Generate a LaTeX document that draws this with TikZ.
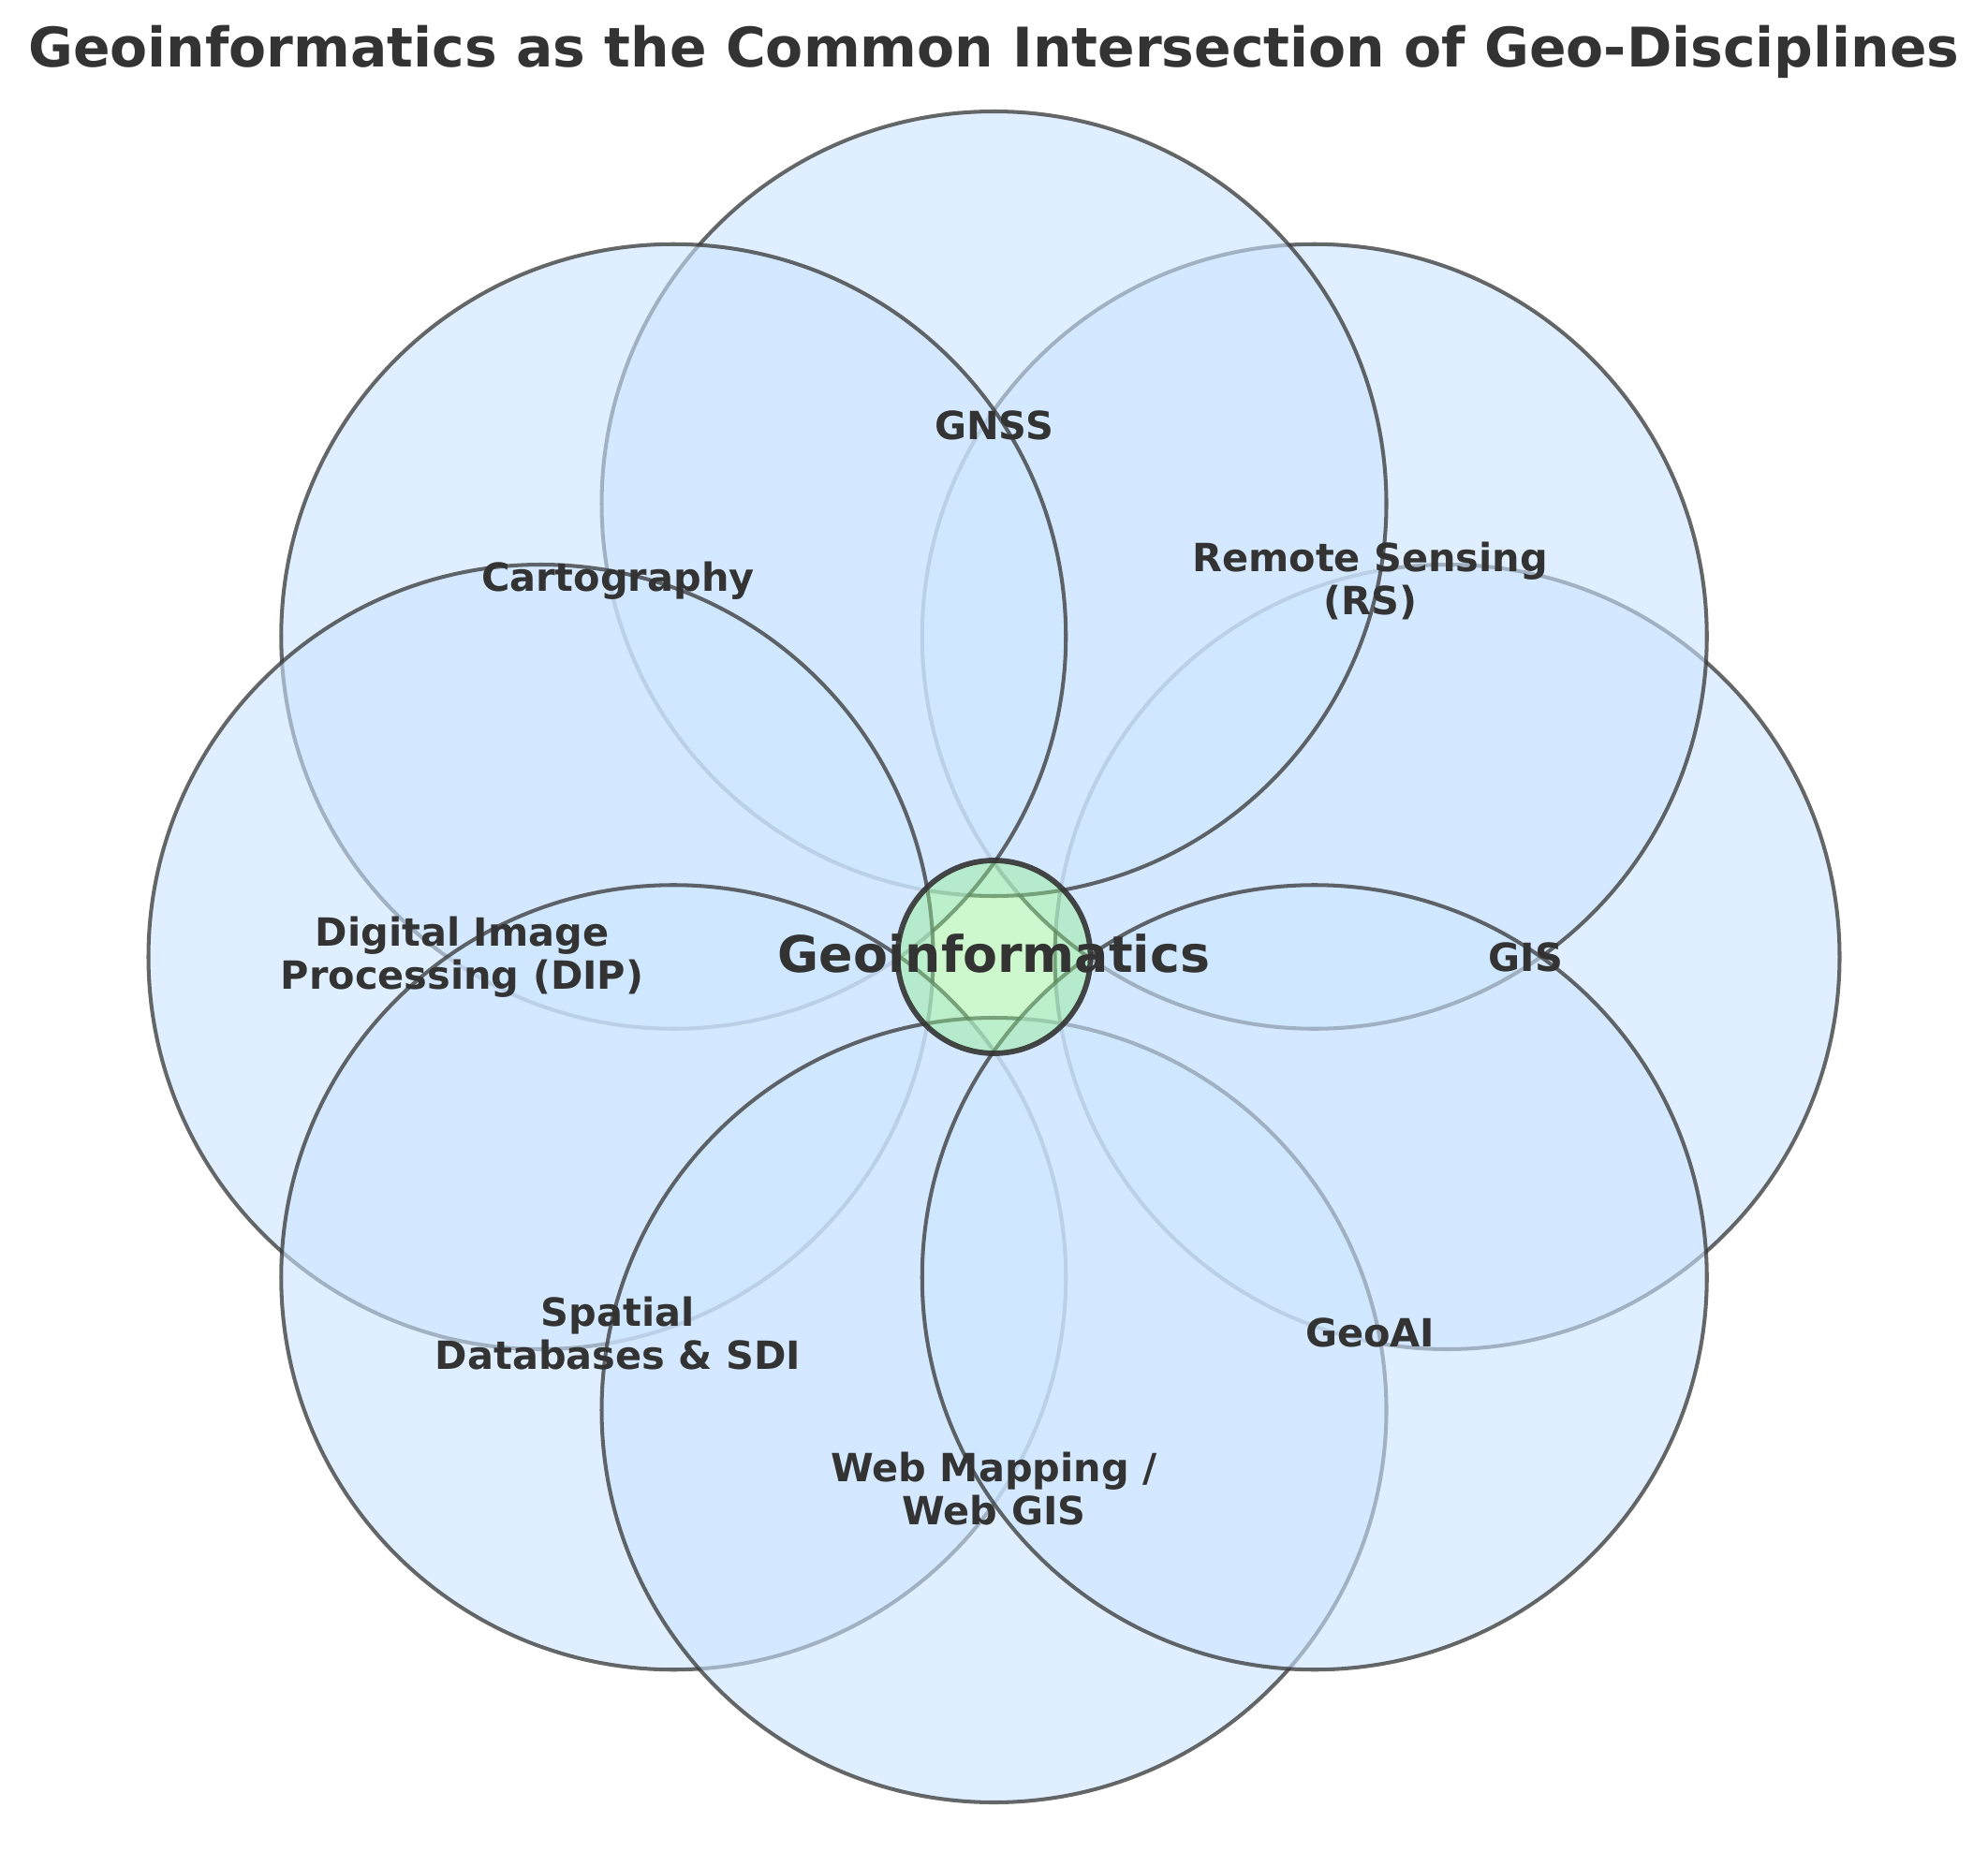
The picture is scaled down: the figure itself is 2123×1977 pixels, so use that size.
\documentclass[tikz,border=0pt]{standalone}
\usepackage{fontspec}
\setmainfont{DejaVu Sans}
\usetikzlibrary{calc}
\definecolor{txtgray}{HTML}{333333}
\definecolor{discblue}{HTML}{CCE5FF}
\definecolor{coregreen}{HTML}{90EE90}
\begin{document}
\begin{tikzpicture}[x=0.1mm,y=0.1mm,
  discnode/.style={circle, minimum size=83.8mm, inner sep=0pt, outer sep=0pt,
    fill=discblue, fill opacity=0.6, draw=txtgray, draw opacity=0.74, line width=1.15pt},
  corenode/.style={circle, minimum size=20.6mm, inner sep=0pt, outer sep=0pt,
    fill=coregreen, fill opacity=0.45, draw=txtgray, draw opacity=0.9, line width=1.65pt},
  lbl/.style={text=txtgray, align=center, inner sep=0pt,
    font=\fontsize{11.8}{13.1}\selectfont\bfseries},
  bigtxt/.style={text=txtgray, inner sep=0pt, anchor=base,
    font=\fontsize{15.3}{19}\selectfont\bfseries}]
\useasboundingbox (0,0) rectangle (2123,1977);
\coordinate (o) at (1061.5,955);
% discipline circles, drawn counter-clockwise from the right
\foreach \a/\n in {0/gis,45/rs,90/gnss,135/carto,180/dip,225/sdb,270/web,315/geoai}{
  \node[discnode] (c-\n) at ($(o)+(\a:484)$) {};
}
% common intersection
\node[corenode] (core) at (o) {};
\node[bigtxt] (coretext) at (1061.5,939) {Geoinformatics};
% labels
\node[lbl] (l-gis)   at ($(o)+(0:568)$)   {GIS};
\node[lbl] (l-rs)    at ($(o)+(45:568)$)  {Remote Sensing\\(RS)};
\node[lbl] (l-gnss)  at ($(o)+(90:568)$)  {GNSS};
\node[lbl] (l-carto) at ($(o)+(135:568)$) {Cartography};
\node[lbl] (l-dip)   at ($(o)+(180:568)$) {Digital Image\\Processing (DIP)};
\node[lbl] (l-sdb)   at ($(o)+(225:568)$) {Spatial\\Databases \& SDI};
\node[lbl] (l-web)   at ($(o)+(270:568)$) {Web Mapping /\\Web GIS};
\node[lbl] (l-geoai) at ($(o)+(315:568)$) {GeoAI};
% title
\node[bigtxt, font=\fontsize{16.6}{20}\selectfont\bfseries] (title) at (1061.5,1905)
  {Geoinformatics as the Common Intersection of Geo-Disciplines};
\end{tikzpicture}
\end{document}
